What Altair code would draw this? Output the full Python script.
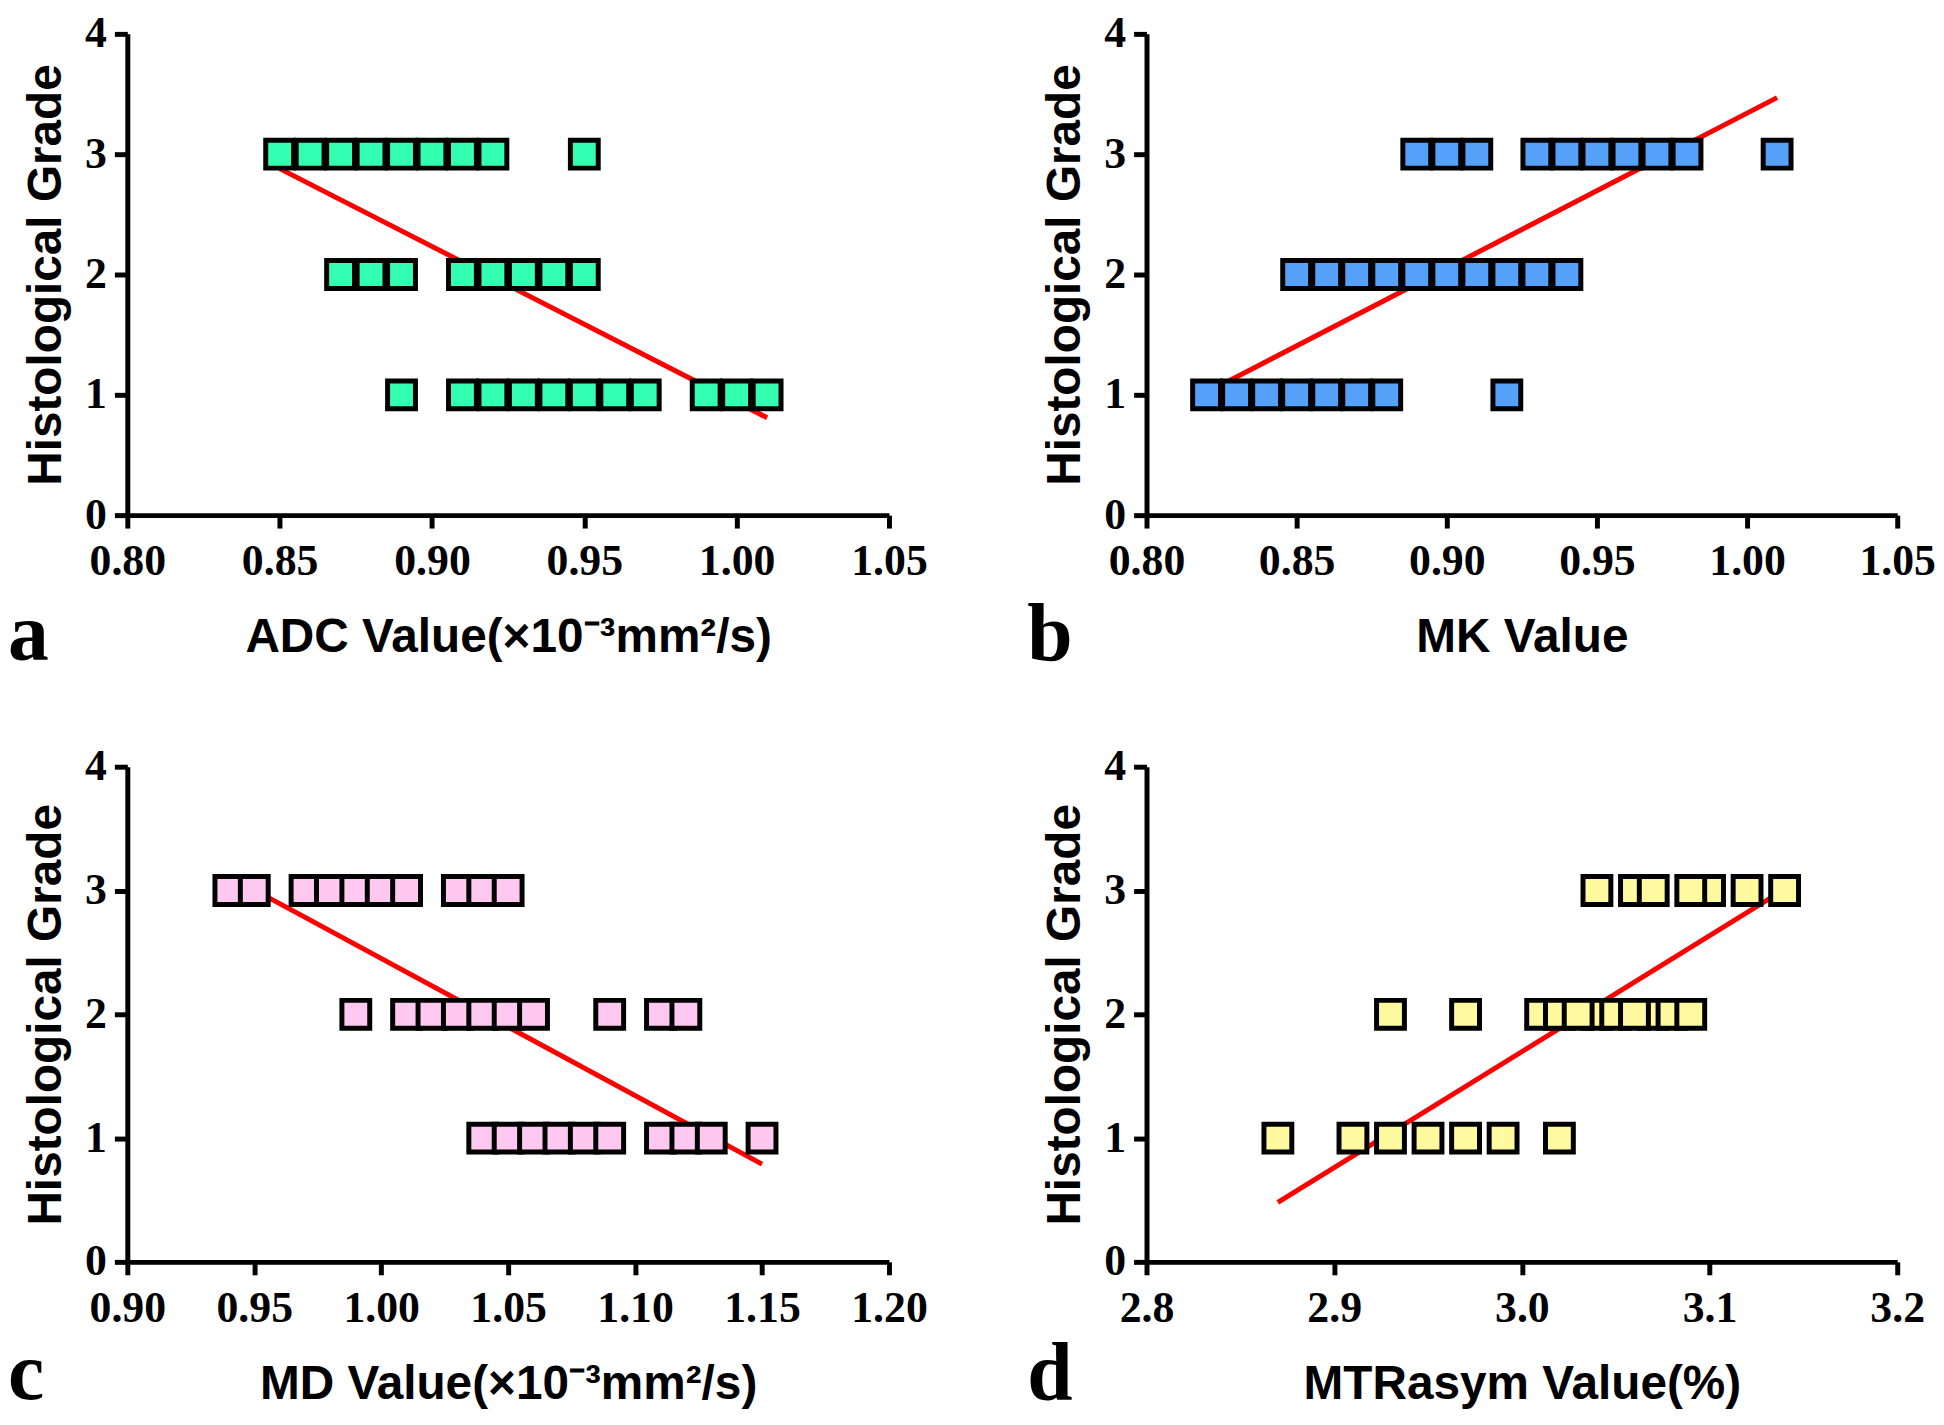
import altair as alt
import pandas as pd

# ---------------- data ----------------
# Panel a: ADC
adc_values = [0.85, 0.86, 0.87, 0.88, 0.89, 0.90, 0.91, 0.92, 0.95,
              0.87, 0.88, 0.89, 0.91, 0.92, 0.93, 0.94, 0.95,
              0.89, 0.91, 0.92, 0.93, 0.94, 0.95, 0.96, 0.97, 0.99, 1.00, 1.01]
adc_grades = [3, 3, 3, 3, 3, 3, 3, 3, 3,
              2, 2, 2, 2, 2, 2, 2, 2,
              1, 1, 1, 1, 1, 1, 1, 1, 1, 1, 1]
adc_fit_x = [0.85, 1.01]
adc_fit_y = [2.88, 0.81]

# Panel b: MK
mk_values = [0.89, 0.90, 0.91, 0.93, 0.94, 0.95, 0.96, 0.97, 0.98, 1.01,
             0.85, 0.86, 0.87, 0.88, 0.89, 0.90, 0.91, 0.92, 0.93, 0.94,
             0.82, 0.83, 0.84, 0.85, 0.86, 0.87, 0.88, 0.92]
mk_grades = [3, 3, 3, 3, 3, 3, 3, 3, 3, 3,
             2, 2, 2, 2, 2, 2, 2, 2, 2, 2,
             1, 1, 1, 1, 1, 1, 1, 1]
mk_fit_x = [0.82, 1.01]
mk_fit_y = [1.02, 3.47]

# Panel c: MD
md_values = [0.94, 0.95, 0.97, 0.98, 0.99, 1.00, 1.01, 1.03, 1.04, 1.05,
             0.99, 1.01, 1.02, 1.03, 1.04, 1.05, 1.06, 1.09, 1.11, 1.12,
             1.04, 1.05, 1.06, 1.07, 1.08, 1.09, 1.11, 1.12, 1.13, 1.15]
md_grades = [3, 3, 3, 3, 3, 3, 3, 3, 3, 3,
             2, 2, 2, 2, 2, 2, 2, 2, 2, 2,
             1, 1, 1, 1, 1, 1, 1, 1, 1, 1]
md_fit_x = [0.945, 1.15]
md_fit_y = [3.06, 0.79]

# Panel d: MTRasym
mtr_values = [3.04, 3.06, 3.07, 3.10, 3.09, 3.12, 3.14,
              2.93, 2.97, 3.01, 3.02, 3.04, 3.05, 3.03, 3.07, 3.06, 3.08, 3.09,
              2.87, 2.91, 2.93, 2.95, 2.97, 2.99, 3.02]
mtr_grades = [3, 3, 3, 3, 3, 3, 3,
              2, 2, 2, 2, 2, 2, 2, 2, 2, 2, 2,
              1, 1, 1, 1, 1, 1, 1]
mtr_fit_x = [2.87, 3.14]
mtr_fit_y = [0.48, 3.01]

x_titles = ["ADC Value(×10⁻³mm²/s)", "MK Value",
            "MD Value(×10⁻³mm²/s)", "MTRasym Value(%)"]
panel_letters = ["a", "b", "c", "d"]
y_title = "Histological Grade"
y_ticks = [0, 1, 2, 3, 4]
colors = ["#33FFB2", "#55A0F8", "#FFC8F0", "#FFFAA0"]

SANS = "Liberation Sans, Arial, sans-serif"
SERIF = "Liberation Serif, Times New Roman, serif"


def panel(xv, gv, fx, fy, color, xdomain, xticks, fmt, xtitle, letter,
          w, h, letter_dy):
    pts = pd.DataFrame({"x": xv, "g": gv})
    fit = pd.DataFrame({"x": fx, "g": fy})
    xscale = alt.Scale(domain=xdomain, nice=False, zero=False)
    yscale = alt.Scale(domain=[0, 4], nice=False)
    xaxis = alt.Axis(values=xticks, format=fmt, title=xtitle,
                     labelFlush=False, labelOverlap=False)
    yaxis = alt.Axis(values=y_ticks, format="d", title=y_title,
                     labelFlush=False, labelOverlap=False)
    line = alt.Chart(fit).mark_line(color="#FF0000", strokeWidth=5).encode(
        x=alt.X("x:Q", scale=xscale, axis=xaxis),
        y=alt.Y("g:Q", scale=yscale, axis=yaxis),
    )
    sq = alt.Chart(pts).mark_square(
        size=784, filled=True, fill=color, stroke="black",
        strokeWidth=5, opacity=1
    ).encode(
        x=alt.X("x:Q", scale=xscale, axis=xaxis),
        y=alt.Y("g:Q", scale=yscale, axis=yaxis),
    )
    lab = alt.Chart(pd.DataFrame({"t": [letter]})).mark_text(
        font=SERIF, fontWeight="bold", fontSize=82, align="left",
        baseline="alphabetic", color="black"
    ).encode(text="t:N", x=alt.value(-120), y=alt.value(h + letter_dy))
    return alt.layer(line, sq, lab).properties(width=w, height=h)


H1 = 484
H2 = 498
pa = panel(adc_values, adc_grades, adc_fit_x, adc_fit_y, colors[0],
           [0.80, 1.05], [0.80, 0.85, 0.90, 0.95, 1.00, 1.05], ".2f",
           x_titles[0], panel_letters[0], 766, H1, 146)
pb = panel(mk_values, mk_grades, mk_fit_x, mk_fit_y, colors[1],
           [0.80, 1.05], [0.80, 0.85, 0.90, 0.95, 1.00, 1.05], ".2f",
           x_titles[1], panel_letters[1], 755, H1, 146)
pc = panel(md_values, md_grades, md_fit_x, md_fit_y, colors[2],
           [0.90, 1.20], [0.90, 0.95, 1.00, 1.05, 1.10, 1.15, 1.20], ".2f",
           x_titles[2], panel_letters[2], 766, H2, 138)
pd_ = panel(mtr_values, mtr_grades, mtr_fit_x, mtr_fit_y, colors[3],
            [2.8, 3.2], [2.8, 2.9, 3.0, 3.1, 3.2], ".1f",
            x_titles[3], panel_letters[3], 755, H2, 138)

chart = alt.concat(
    pa, pb, pc, pd_, columns=2, bounds="flush",
    spacing={"row": 253, "column": 259}
).properties(padding=0).configure_view(stroke=None).configure_axis(
    domainColor="black", domainWidth=5, tickColor="black", tickWidth=5,
    tickSize=13, grid=False, labelFont=SERIF, labelFontWeight="bold",
    labelFontSize=44, labelColor="black", titleFont=SANS,
    titleFontWeight="bold", titleFontSize=48, titleColor="black"
).configure_axisX(labelPadding=12, titlePadding=30).configure_axisY(
    labelPadding=8, titlePadding=14)

chart.save("out.html", embed_options={"renderer": "svg", "actions": False})
